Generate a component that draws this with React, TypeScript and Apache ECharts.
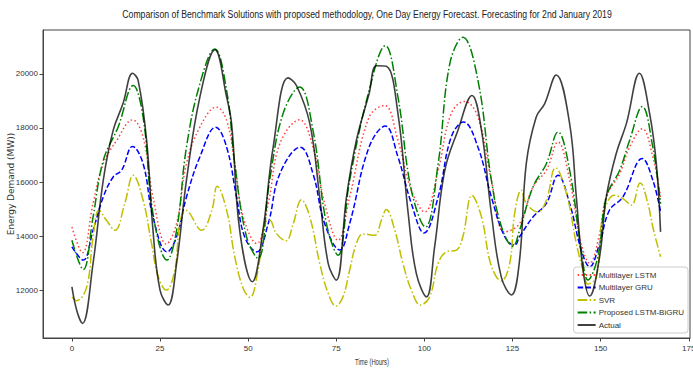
import React, { useEffect, useRef } from "react";
import * as echarts from "echarts";

const TITLE =
  "Comparison of Benchmark Solutions with proposed methodology, One Day Energy Forecast. Forecasting for 2nd January 2019";
const X_NAME = "Time (Hours)";
const Y_NAME = "Energy Demand (MW))";

const xTicks = [0, 25, 50, 75, 100, 125, 150, 175];
const yTicks = [12000, 14000, 16000, 18000, 20000];

const seriesNames = [
  "Multilayer LSTM",
  "Multilayer GRU",
  "SVR",
  "Proposed LSTM-BiGRU",
  "Actual",
];

// [hour, MW]
const lstm = [
  [0, 14340], [3, 13390], [6, 15210], [8.9, 16680], [12.7, 17540], [17.2, 18300],
  [20.2, 17660], [23, 15450], [26.8, 13710], [29.7, 14470], [32.5, 16680], [36.3, 18030],
  [41, 18770], [43.9, 18280], [46.2, 16680], [48.6, 14710], [52.4, 13730], [55.7, 15210],
  [59, 17420], [64.6, 18300], [68.4, 17290], [71.7, 15210], [75.5, 13850], [78.8, 15450],
  [84.3, 18400], [88.7, 18830], [92.5, 17540], [96.3, 15700], [100.1, 14900], [103.9, 16440],
  [107.6, 18530], [111.4, 18980], [115.2, 18400], [119, 16070], [122.8, 14160], [127, 14470],
  [130.8, 15820], [134.6, 16440], [137.9, 17480], [141.2, 16070], [144.5, 13730], [146.9, 13000],
  [149.7, 14100], [151.6, 15450], [155.4, 16310], [158.2, 17290], [161.8, 17970], [164.8, 16930],
  [167, 15450],
];

const gru = [
  [0, 13610], [3.2, 13120], [6, 14220], [8.9, 15450], [11.7, 16190], [14.1, 16440],
  [17.2, 17320], [20.2, 16680], [23, 14710], [27, 13420], [29.7, 13980], [32.5, 15450],
  [36.3, 16930], [40.8, 18030], [43.9, 17290], [46.7, 15450], [49, 13980], [52.4, 13420],
  [55.7, 14470], [59, 16310], [64.8, 17290], [68.4, 16310], [71.7, 14470], [76, 13490],
  [78.8, 14470], [84.3, 17290], [88.9, 18070], [92.5, 16930], [96.3, 15210], [99.9, 14120],
  [103.9, 15450], [107.6, 17660], [111.1, 18220], [115.2, 17290], [119, 15450], [122.8, 13980],
  [125.6, 13670], [127, 13980], [130.8, 14710], [134.6, 15210], [137.9, 16250], [141.2, 15210],
  [144.5, 13490], [146.9, 12870], [149.7, 13730], [152.5, 14960], [156.3, 15450], [161.8, 16870],
  [164.8, 16070], [167, 14900],
];

const svr = [
  [0, 11760], [1.3, 11620], [4.2, 12130], [6, 13980], [7.7, 14960], [9.8, 14590],
  [12.2, 14220], [15, 15210], [17.4, 16250], [20.2, 15330], [22.6, 13730], [24.5, 12500],
  [26.8, 12010], [29.2, 12750], [30.6, 14470], [32.3, 14960], [36.8, 14220], [39.7, 14960],
  [41.2, 15850], [43.9, 14960], [46.2, 13240], [48.6, 12070], [50.5, 11740], [52.8, 12750],
  [54.7, 14470], [56.1, 14590], [58, 14100], [60.7, 13830], [62.8, 14470], [65.1, 15350],
  [67.5, 14710], [70.3, 13000], [72.7, 11890], [74.9, 11420], [76.9, 11760], [78.8, 12750],
  [80.7, 13730], [82.6, 14080], [85.9, 14040], [87.8, 14590], [89.2, 14990], [91.6, 14220],
  [93.9, 13000], [96.3, 12010], [98.9, 11460], [101.5, 11760], [103.9, 13000], [106.2, 13420],
  [109.1, 13490], [110.9, 13980], [113.5, 15510], [116.2, 14710], [118.5, 13120], [120.4, 12500],
  [121.8, 12350], [124.2, 13000], [125.6, 14840], [127.5, 15700], [128.9, 15210], [132.2, 14900],
  [134.6, 15330], [137.2, 16530], [140.3, 15580], [143.1, 13730], [145, 12750], [146.4, 12230],
  [148.8, 12500], [150.6, 14710], [153.9, 15510], [156.3, 15390], [158.7, 15150], [161.2, 15970],
  [163.4, 15210], [164.8, 14340], [167, 13240],
];

const proposed = [
  [0, 13850], [3.2, 12770], [6, 14710], [8.9, 16800], [13.1, 18030], [17.4, 19570],
  [20.2, 18400], [23, 14840], [27, 13120], [29.7, 14220], [32.5, 17290], [36.3, 19630],
  [40.5, 20920], [43.9, 19380], [46.2, 16680], [49.5, 14000], [52.8, 13180], [56.1, 16070],
  [59.9, 18530], [64.6, 19510], [68.4, 17910], [72.2, 14470], [75.5, 13300], [78.8, 16070],
  [84.3, 19380], [88.9, 21040], [92.5, 19140], [96.3, 15700], [100.3, 14340], [103.9, 16680],
  [107.2, 20370], [110.9, 21350], [115.2, 19750], [119, 16070], [122, 14300], [125.1, 13630],
  [127, 14220], [130.8, 15820], [134.6, 16680], [137.9, 17850], [141.2, 16440], [144.5, 13490],
  [146.4, 12380], [149.2, 13240], [151.6, 15450], [155.4, 16440], [158.2, 17540], [161.8, 18790],
  [164.8, 17290], [167, 15200],
];

const actual = [
  [0, 12130], [1.5, 11200], [3, 10780], [6, 13000], [8.9, 16070], [11.7, 17910],
  [14.5, 18900], [17.2, 20020], [18.8, 19750], [21.2, 17540], [23, 14220], [25, 12010],
  [27.3, 11460], [29.7, 13000], [32.5, 16070], [36.3, 19140], [40.6, 20890], [43.9, 19140],
  [45.3, 18160], [47.6, 14220], [51.2, 12320], [54.2, 14220], [57.1, 17290], [61.3, 19850],
  [63.7, 19570], [67.5, 18160], [70.3, 15450], [72.7, 13000], [75, 12380], [77.9, 15450],
  [80.7, 17540], [84.3, 19260], [86.4, 20300], [89.2, 20280], [92.5, 18530], [95.4, 14840],
  [97.7, 12630], [100.6, 11760], [102.9, 13610], [105.8, 16440], [109.5, 17910], [113.5, 19200],
  [116.2, 17910], [119, 14840], [121.8, 12500], [124.7, 11830], [127, 13120], [128.9, 16680],
  [131.7, 18400], [134.1, 18890], [137.4, 19960], [141.2, 18160], [143.1, 15450], [145, 12750],
  [146.9, 11790], [149.7, 13240], [151.6, 15450], [154.4, 17050], [157.3, 18160], [161, 20020],
  [163.9, 18530], [165.8, 16680], [167, 14160],
];

const FONT = "'Liberation Sans', Arial, sans-serif";

export default function App() {
  const ref = useRef<HTMLDivElement>(null);

  useEffect(() => {
    if (!ref.current) return;
    const chart = echarts.init(ref.current, undefined, { renderer: "svg" });

    const styles = [
      { color: "rgba(255,0,0,0.75)", type: [1.5, 2.5], width: 1.5 },
      { color: "#0000ff", type: [5.5, 2.4], width: 1.5 },
      { color: "#bfbf00", type: [9.6, 2.4, 1.5, 2.4], width: 1.5 },
      { color: "#008000", type: [9.6, 2.4, 1.5, 2.4], width: 1.5 },
      { color: "rgba(0,0,0,0.75)", type: "solid", width: 1.6 },
    ];
    const datas = [lstm, gru, svr, proposed, actual];

    chart.setOption({
      animation: false,
      backgroundColor: "#ffffff",
      grid: {
        left: 43,
        right: 3,
        top: 30,
        bottom: 36,
        containLabel: false,
        outerBoundsMode: "none",
        show: true,
        borderColor: "#444",
        borderWidth: 1,
        backgroundColor: "transparent",
      },
      legend: {
        orient: "vertical",
        right: 5,
        bottom: 41,
        data: seriesNames,
        itemWidth: 18,
        itemHeight: 10,
        itemGap: 4.5,
        padding: [4, 4, 4, 3],
        borderColor: "#cccccc",
        borderWidth: 1,
        borderRadius: 3,
        backgroundColor: "rgba(255,255,255,0.85)",
        itemStyle: { opacity: 0 },
        textStyle: { fontFamily: FONT, fontSize: 8, color: "#333", padding: [0, 0, 0, -2] },
      },
      xAxis: {
        type: "value",
        min: -8.2,
        max: 175.35,
        splitLine: { show: false },
        axisLine: { show: true, onZero: false, lineStyle: { color: "#444", width: 1 } },
        axisTick: {
          show: true,
          length: 3.5,
          customValues: xTicks,
          lineStyle: { color: "#444" },
        },
        axisLabel: {
          customValues: xTicks,
          formatter: (v: number) => String(v),
          fontFamily: FONT,
          fontSize: 8,
          color: "#333",
          margin: 6,
        },
      },
      yAxis: {
        type: "value",
        min: 10240,
        max: 21620,
        name: Y_NAME,
        nameLocation: "middle",
        nameRotate: 90,
        nameGap: 28,
        nameMoveOverlap: false,
        nameTextStyle: {
          fontFamily: "'DejaVu Sans', sans-serif",
          fontSize: 9,
          color: "#333",
        },
        splitLine: { show: false },
        axisLine: { show: true, onZero: false, lineStyle: { color: "#444", width: 1 } },
        axisTick: {
          show: true,
          length: 3.5,
          customValues: yTicks,
          lineStyle: { color: "#444" },
        },
        axisLabel: {
          customValues: yTicks,
          formatter: (v: number) => String(v),
          fontFamily: FONT,
          fontSize: 8,
          color: "#333",
          margin: 5,
        },
      },
      graphic: [
        {
          type: "text",
          x: 367,
          y: 14,
          scaleX: 0.757,
          style: {
            text: TITLE,
            fontFamily: FONT,
            fontSize: 11.5,
            fill: "#222",
            align: "center",
            verticalAlign: "middle",
          },
        },
        {
          type: "text",
          x: 372,
          y: 362,
          scaleX: 0.65,
          style: {
            text: X_NAME,
            fontFamily: FONT,
            fontSize: 9,
            fill: "#333",
            align: "center",
            verticalAlign: "middle",
          },
        },
      ],
      series: seriesNames.map((name, i) => ({
        name,
        type: "line",
        data: datas[i],
        showSymbol: false,
        symbol: "circle",
        smooth: 0.4,
        lineStyle: styles[i],
        itemStyle: { color: styles[i].color },
        emphasis: { disabled: true },
        z: 2 + i,
      })),
    });

    return () => chart.dispose();
  }, []);

  return (
    <div
      ref={ref}
      style={{ position: "absolute", left: 0, top: 0, width: 693, height: 374 }}
    />
  );
}
